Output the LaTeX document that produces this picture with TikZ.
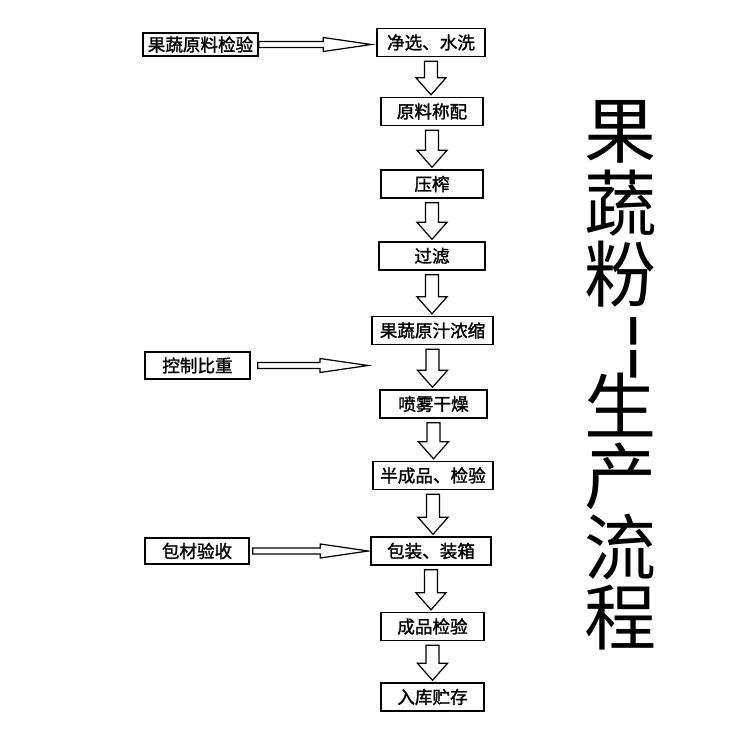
\documentclass[tikz,border=0pt]{standalone}
\usepackage{fontspec}
\setmainfont{Noto Sans CJK SC}
\newfontfamily\boxfont{Noto Sans CJK SC}[FakeBold=1.5]
\usetikzlibrary{calc}

\tikzset{
  stage/.style={draw, line width=0.8pt, minimum height=0.56cm, inner sep=0pt, font=\fontsize{10pt}{12pt}\boxfont},
  source/.style={stage, minimum height=0.5cm},
  hollow/.style={draw, line width=0.7pt, fill=white},
  title/.style={inner sep=0pt, font=\fontsize{41pt}{41pt}\selectfont}
}

% hollow arrow down from one stage to the next
\newcommand{\flowdown}[2]{%
\draw [hollow] let \p1=(#1.south), \p2=(#2.north) in
  (\x1-0.13cm,\y1-0.08cm) -- (\x1-0.13cm,\y2+0.38cm) -- (\x1-0.3cm,\y2+0.38cm) -- (\x1,\y2+0.04cm)
  -- (\x1+0.3cm,\y2+0.38cm) -- (\x1+0.13cm,\y2+0.38cm) -- (\x1+0.13cm,\y1-0.08cm) -- cycle;}
% hollow arrow to the right
\newcommand{\flowright}[2]{%
\draw [hollow] let \p1=(#1), \p2=(#2) in
  (\x1,\y1+0.06cm) -- (\x2-0.96cm,\y1+0.06cm) -- (\x2-0.96cm,\y1+0.14cm) -- (\x2,\y1)
  -- (\x2-0.96cm,\y1-0.14cm) -- (\x2-0.96cm,\y1-0.06cm) -- (\x1,\y1-0.06cm) -- cycle;}

\begin{document}
\begin{tikzpicture}[x=0.02cm, y=-0.02cm]
\useasboundingbox (0,0) rectangle (750,750);

% main line
\node [stage, minimum width=2.16cm] (wash) at (431,42.5) {净选、水洗};
\node [stage, minimum width=2.04cm] (weigh) at (432,111.5) {原料称配};
\node [stage, minimum width=2.04cm] (press) at (432,184) {压榨};
\node [stage, minimum width=2.12cm] (filter) at (432,256) {过滤};
\node [stage, minimum width=2.42cm] (conc) at (432.5,330.5) {果蔬原汁浓缩};
\node [stage, minimum width=2.14cm] (dry) at (433.5,404) {喷雾干燥};
\node [stage, minimum width=2.4cm] (semi) at (433,475.5) {半成品、检验};
\node [stage, minimum width=2.4cm] (pack) at (431,551) {包装、装箱};
\node [stage, minimum width=2.06cm] (final) at (432.5,626.5) {成品检验};
\node [stage, minimum width=2.06cm] (store) at (432.5,697) {入库贮存};

% side inputs
\node [source, minimum width=2.3cm, minimum height=0.46cm] (raw) at (200.5,44.5) {果蔬原料检验};
\node [source, minimum width=2.1cm, minimum height=0.54cm] (ratio) at (197.5,365.5) {控制比重};
\node [source, minimum width=2.08cm, minimum height=0.52cm] (wrap) at (197,551) {包材验收};
\coordinate (ratioend) at (368,365.5);

\flowdown{wash}{weigh}
\flowdown{weigh}{press}
\flowdown{press}{filter}
\flowdown{filter}{conc}
\flowdown{conc}{dry}
\flowdown{dry}{semi}
\flowdown{semi}{pack}
\flowdown{pack}{final}
\flowdown{final}{store}

\flowright{raw.east}{[xshift=-0.1cm]wash.west}
\flowright{[xshift=0.14cm]ratio.east}{ratioend}
\flowright{[xshift=0.06cm]wrap.east}{[xshift=-0.04cm]pack.west}

% title
\node [title] (t1) at (621,132) {果};
\node [title] (t2) at (621,203) {蔬};
\node [title] (t3) at (621,274) {粉};
\node [title, rotate=-90] (t4) at (623,331) {\scalebox{1.5}[1.2]{-}};
\node [title, rotate=-90] (t5) at (623,364) {\scalebox{1.5}[1.2]{-}};
\node [title] (t6) at (621,405) {生};
\node [title] (t7) at (621,476) {产};
\node [title] (t8) at (621,547) {流};
\node [title] (t9) at (621,618) {程};
\end{tikzpicture}
\end{document}
